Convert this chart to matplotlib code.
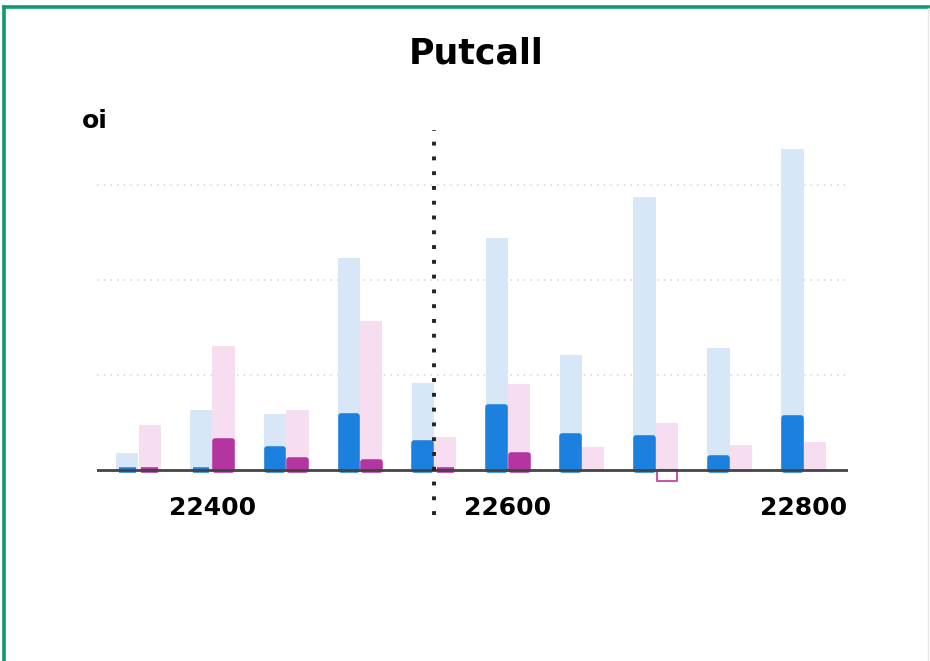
import numpy as np
import matplotlib
matplotlib.use("Agg")
import matplotlib.pyplot as plt
from matplotlib.lines import Line2D

# strikes and open interest (arbitrary units, one grid step = 1)
strikes = [22350, 22400, 22450, 22500, 22550, 22600, 22650, 22700, 22750, 22800]
call_oi = [0.18, 0.63, 0.59, 2.23, 0.92, 2.44, 1.21, 2.87, 1.29, 3.38]
call_chg = [0.03, 0.02, 0.25, 0.60, 0.31, 0.69, 0.39, 0.37, 0.16, 0.58]
put_oi = [0.47, 1.31, 0.63, 1.57, 0.35, 0.91, 0.24, 0.50, 0.26, 0.30]
put_chg = [0.03, 0.34, 0.14, 0.12, 0.02, 0.19, 0.0, -0.12, 0.0, 0.0]
spot = 22550
tick_strikes = [22400, 22600, 22800]

fig = plt.figure(figsize=(9.3, 6.61), dpi=100)
ax = fig.add_axes([97 / 930, 1 - 490 / 661, 751 / 930, 360 / 661])

x = np.array(strikes)
w = 15
off = 7.6

# light background bars: total oi
ax.bar(x - off, call_oi, width=w, color="#d7e7f8", zorder=2)
ax.bar(x + off, put_oi, width=w, color="#f6ddf0", zorder=2)

# dark bars: change in oi, rounded corners via thick round-joined edge
# (edge adds ~2.8px each side, so shrink width and height a bit)
shrink = 0.03


def rounded(vals):
    h = [max(v - shrink, 0.001) if v > 0 else 0 for v in vals]
    lw = [4 if v > 0 else 0 for v in vals]
    return h, lw


h, lw = rounded(call_chg)
ax.bar(x - off, h, width=w - 3.7, color="#1b80de", edgecolor="#1b80de",
       linewidth=lw, joinstyle="round", zorder=3)
h, lw = rounded(put_chg)
ax.bar(x + off, h, width=w - 3.7, color="#b4359f", edgecolor="#b4359f",
       linewidth=lw, joinstyle="round", zorder=3)
neg = [v if v < 0 else 0 for v in put_chg]
ax.bar(x + off, neg, width=w - 1.5, color="white", edgecolor="#c45aa5",
       linewidth=[1.5 if v < 0 else 0 for v in put_chg], joinstyle="round", zorder=3)

# baseline
ax.axhline(0, color="#444444", linewidth=2, zorder=4)

# spot marker
ax.add_line(Line2D([spot, spot], [-0.07, 1.0], transform=ax.get_xaxis_transform(),
                   color="#222222", linewidth=2.8, linestyle=(0, (1, 2.8)),
                   clip_on=False, zorder=5))

ax.set_xlim(22322, 22830)
ax.set_ylim(-0.21, 3.58)
ax.set_yticks([1, 2, 3])
ax.yaxis.grid(True, color="#d9d9d9", linestyle=(0, (1, 3)), linewidth=1.2)
ax.set_axisbelow(True)
ax.tick_params(axis="y", left=False, labelleft=False)
ax.set_xticks(tick_strikes)
ax.set_xticklabels([str(s) for s in tick_strikes], fontsize=18, fontweight="bold")
ax.tick_params(axis="x", length=0, pad=4)
for sp in ax.spines.values():
    sp.set_visible(False)

fig.text(476 / 930, 1 - 53 / 661, "Putcall", ha="center", va="center",
         fontsize=25, fontweight="bold")
fig.text(82 / 930, 1 - 121 / 661, "oi", ha="left", va="center",
         fontsize=18, fontweight="bold")

# green frame (left and top), faint right edge
green = "#119a70"
fig.add_artist(Line2D([3.5 / 930, 3.5 / 930], [0, 1 - 6.5 / 661], color=green,
                      linewidth=2.6, transform=fig.transFigure))
fig.add_artist(Line2D([3.5 / 930, 1], [1 - 6.5 / 661, 1 - 6.5 / 661], color=green,
                      linewidth=2.6, transform=fig.transFigure))
fig.add_artist(Line2D([927.5 / 930, 927.5 / 930], [0, 1 - 8 / 661], color="#e6e6e6",
                      linewidth=1, transform=fig.transFigure))

fig.savefig("out.png", dpi=100)
